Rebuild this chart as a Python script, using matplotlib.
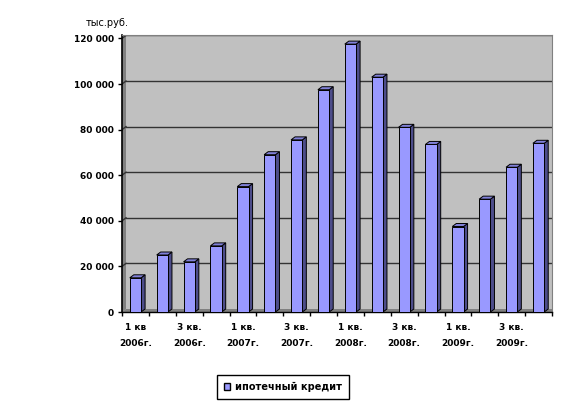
import matplotlib
matplotlib.use("Agg")
import matplotlib.pyplot as plt
from matplotlib.patches import Polygon, Patch

categories = ["1 кв\n2006г.", "2 кв.\n2006г.", "3 кв.\n2006г.", "4 кв.\n2006г.",
              "1 кв.\n2007г.", "2 кв.\n2007г.", "3 кв.\n2007г.", "4 кв.\n2007г.",
              "1 кв.\n2008г.", "2 кв.\n2008г.", "3 кв.\n2008г.", "4 кв.\n2008г.",
              "1 кв.\n2009г.", "2 кв.\n2009г.", "3 кв.\n2009г.", "4 кв.\n2009г."]
values = [15000, 25000, 22000, 29000, 55000, 69000, 75500, 97500,
          117500, 103000, 81000, 73500, 37500, 49500, 63500, 74000]
yticks = [0, 20000, 40000, 60000, 80000, 100000, 120000]
ytick_labels = ["0", "20 000", "40 000", "60 000", "80 000", "100 000", "120 000"]
series_name = "ипотечный кредит"
unit_label = "тыс.руб."

W, H = 569, 408
fig = plt.figure(figsize=(W / 100, H / 100), dpi=100)
fig.patch.set_facecolor("white")
L, R, T, B = 122, 552, 35, 312
ax = fig.add_axes([L / W, (H - B) / H, (R - L) / W, (B - T) / H])

n = len(values)
xmin, xmax = -0.5, n - 0.5
ymax = 121500
ax.set_xlim(xmin, xmax)
ax.set_ylim(0, ymax)

px_x = (xmax - xmin) / (R - L)
px_y = ymax / (B - T)
dx = 4 * px_x
dy = 3 * px_y

ax.set_facecolor("#C0C0C0")
ax.add_patch(Polygon([(xmin, 0), (xmax, 0), (xmax, dy), (xmin + dx, dy)],
                     closed=True, facecolor="#808080", edgecolor="none", zorder=1))
ax.add_patch(Polygon([(xmin, 0), (xmin + dx, dy), (xmin + dx, ymax), (xmin, ymax)],
                     closed=True, facecolor="#808080", edgecolor="none", zorder=1))
for v in yticks[1:]:
    ax.plot([xmin + dx, xmax], [v + dy, v + dy], color="#333333", lw=1.0, zorder=2)
    ax.plot([xmin, xmin + dx], [v, v + dy], color="#333333", lw=1.0, zorder=2)

w = 0.42
xs = list(range(n))
ax.bar(xs, values, width=w, color="#9999FF", edgecolor="black", linewidth=0.7, zorder=4)
for x, v in zip(xs, values):
    side = [(x + w / 2, 0), (x + w / 2 + dx, dy), (x + w / 2 + dx, v + dy), (x + w / 2, v)]
    top = [(x - w / 2, v), (x - w / 2 + dx, v + dy), (x + w / 2 + dx, v + dy), (x + w / 2, v)]
    ax.add_patch(Polygon(side, closed=True, facecolor="#4D4D8A", edgecolor="black", lw=0.7, zorder=3))
    ax.add_patch(Polygon(top, closed=True, facecolor="#8080D8", edgecolor="black", lw=0.7, zorder=3))

for s in ["top", "right"]:
    ax.spines[s].set_color("#808080")
ax.spines["left"].set_color("black")
ax.spines["left"].set_linewidth(1.2)
ax.spines["bottom"].set_color("black")
ax.spines["bottom"].set_linewidth(1.0)

ax.set_yticks(yticks)
ax.set_yticklabels(ytick_labels, fontsize=6.5, fontweight="bold")
ax.tick_params(axis="y", length=3, width=1, pad=3)

ax.set_xticks([i - 0.5 for i in range(n + 1)])
ax.set_xticklabels([])
ax.tick_params(axis="x", length=3, width=1)
for i in range(0, n, 2):
    ax.text(i, -5000, categories[i], ha="center", va="top", fontsize=6.5,
            fontweight="bold", linespacing=2.0, transform=ax.transData)

fig.text(86 / W, 1 - 23 / H, unit_label, fontsize=7, ha="left", va="center")

fig.legend(handles=[Patch(facecolor="#9999FF", edgecolor="black", label=series_name)],
           loc="center", bbox_to_anchor=(283 / W, 1 - 387 / H),
           frameon=True, fancybox=False, edgecolor="black", handlelength=0.7,
           handleheight=0.7, handletextpad=0.5, borderpad=0.7, framealpha=1,
           prop={"weight": "bold", "size": 7})

fig.savefig("out.png", dpi=100, facecolor="white")
